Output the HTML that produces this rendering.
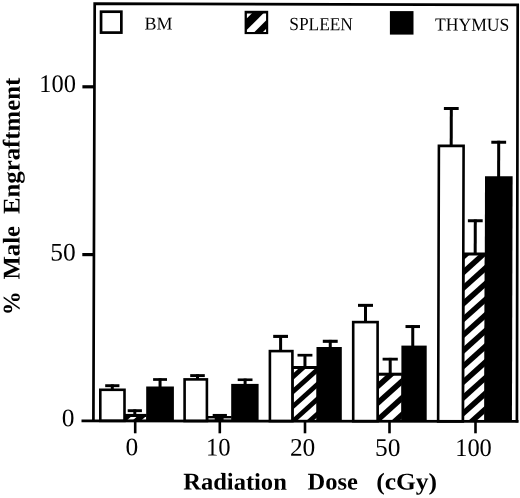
<!DOCTYPE html>
<html><head><meta charset="utf-8"><title>chart</title>
<style>html,body{margin:0;padding:0;background:#fff;}svg{display:block;filter:grayscale(1) blur(0.4px);}text{font-family:"Liberation Serif",serif;fill:#000;}</style></head><body>
<svg width="520" height="498" viewBox="0 0 520 498">
<rect x="0" y="0" width="520" height="498" fill="#fff"/>
<rect x="123.20" y="413.90" width="23.50" height="6.98" fill="#000"/>
<clipPath id="c1"><rect x="125.8" y="416.9" width="20.39999999999999" height="2.7754462242563136"/></clipPath>
<rect x="125.8" y="416.9" width="20.39999999999999" height="2.7754462242563136" fill="#000"/>
<g clip-path="url(#c1)" fill="#fff">
<polygon points="124.80,396.30 124.80,401.50 147.20,381.34 147.20,376.14"/>
<polygon points="124.80,409.30 124.80,414.50 147.20,394.34 147.20,389.14"/>
<polygon points="124.80,422.30 124.80,427.50 147.20,407.34 147.20,402.14"/>
<polygon points="124.80,435.30 124.80,440.50 147.20,420.34 147.20,415.14"/>
<polygon points="124.80,448.30 124.80,453.50 147.20,433.34 147.20,428.14"/>
<polygon points="124.80,461.30 124.80,466.50 147.20,446.34 147.20,441.14"/>
</g>
<rect x="100.30" y="389.80" width="24.20" height="31.08" fill="#fff" stroke="#000" stroke-width="2.6"/>
<rect x="146.20" y="386.50" width="27.70" height="34.38" fill="#000"/>
<rect x="105.20" y="384.25" width="14.20" height="2.90" fill="#000"/>
<rect x="110.80" y="384.40" width="3.0" height="5.10" fill="#000"/>
<rect x="127.70" y="409.25" width="14.20" height="2.90" fill="#000"/>
<rect x="133.30" y="409.40" width="3.0" height="5.50" fill="#000"/>
<rect x="153.10" y="378.15" width="13.90" height="2.70" fill="#000"/>
<rect x="158.55" y="378.30" width="3.0" height="9.20" fill="#000"/>
<rect x="205.60" y="416.00" width="26.10" height="4.99" fill="#000"/>
<rect x="184.60" y="379.40" width="22.30" height="41.59" fill="#fff" stroke="#000" stroke-width="2.6"/>
<rect x="231.20" y="383.90" width="27.40" height="37.09" fill="#000"/>
<rect x="190.20" y="374.15" width="14.60" height="2.90" fill="#000"/>
<rect x="196.00" y="374.30" width="3.0" height="4.80" fill="#000"/>
<rect x="212.70" y="413.95" width="14.20" height="2.90" fill="#000"/>
<rect x="218.30" y="414.10" width="3.0" height="2.90" fill="#000"/>
<rect x="237.70" y="378.45" width="14.80" height="2.60" fill="#000"/>
<rect x="243.60" y="378.60" width="3.0" height="6.30" fill="#000"/>
<rect x="291.10" y="366.00" width="25.90" height="55.11" fill="#000"/>
<clipPath id="c2"><rect x="293.7" y="369.0" width="22.80000000000001" height="50.90713958810068"/></clipPath>
<rect x="293.7" y="369.0" width="22.80000000000001" height="50.90713958810068" fill="#000"/>
<g clip-path="url(#c2)" fill="#fff">
<polygon points="292.70,350.60 292.70,359.00 317.50,336.68 317.50,328.28"/>
<polygon points="292.70,365.40 292.70,373.80 317.50,351.48 317.50,343.08"/>
<polygon points="292.70,380.20 292.70,388.60 317.50,366.28 317.50,357.88"/>
<polygon points="292.70,395.00 292.70,403.40 317.50,381.08 317.50,372.68"/>
<polygon points="292.70,409.80 292.70,418.20 317.50,395.88 317.50,387.48"/>
<polygon points="292.70,424.60 292.70,433.00 317.50,410.68 317.50,402.28"/>
<polygon points="292.70,439.40 292.70,447.80 317.50,425.48 317.50,417.08"/>
<polygon points="292.70,454.20 292.70,462.60 317.50,440.28 317.50,431.88"/>
<polygon points="292.70,469.00 292.70,477.40 317.50,455.08 317.50,446.68"/>
</g>
<rect x="269.90" y="351.10" width="22.50" height="70.01" fill="#fff" stroke="#000" stroke-width="2.6"/>
<rect x="316.50" y="347.00" width="25.30" height="74.11" fill="#000"/>
<rect x="273.20" y="334.85" width="14.80" height="3.10" fill="#000"/>
<rect x="279.10" y="335.00" width="3.0" height="15.80" fill="#000"/>
<rect x="297.50" y="353.85" width="14.90" height="2.70" fill="#000"/>
<rect x="303.45" y="354.00" width="3.0" height="13.00" fill="#000"/>
<rect x="322.80" y="339.75" width="14.90" height="3.10" fill="#000"/>
<rect x="328.75" y="339.90" width="3.0" height="8.10" fill="#000"/>
<rect x="376.30" y="372.70" width="25.60" height="48.52" fill="#000"/>
<clipPath id="c3"><rect x="378.9" y="375.7" width="22.5" height="44.32260869565221"/></clipPath>
<rect x="378.9" y="375.7" width="22.5" height="44.32260869565221" fill="#000"/>
<g clip-path="url(#c3)" fill="#fff">
<polygon points="377.90,356.30 377.90,365.60 402.40,343.55 402.40,334.25"/>
<polygon points="377.90,373.10 377.90,382.40 402.40,360.35 402.40,351.05"/>
<polygon points="377.90,389.90 377.90,399.20 402.40,377.15 402.40,367.85"/>
<polygon points="377.90,406.70 377.90,416.00 402.40,393.95 402.40,384.65"/>
<polygon points="377.90,423.50 377.90,432.80 402.40,410.75 402.40,401.45"/>
<polygon points="377.90,440.30 377.90,449.60 402.40,427.55 402.40,418.25"/>
<polygon points="377.90,457.10 377.90,466.40 402.40,444.35 402.40,435.05"/>
<polygon points="377.90,473.90 377.90,483.20 402.40,461.15 402.40,451.85"/>
</g>
<rect x="353.20" y="322.10" width="24.40" height="99.12" fill="#fff" stroke="#000" stroke-width="2.6"/>
<rect x="401.40" y="345.60" width="25.30" height="75.62" fill="#000"/>
<rect x="358.00" y="303.85" width="15.00" height="3.00" fill="#000"/>
<rect x="364.00" y="304.00" width="3.0" height="17.80" fill="#000"/>
<rect x="382.60" y="357.75" width="15.20" height="2.80" fill="#000"/>
<rect x="388.70" y="357.90" width="3.0" height="15.80" fill="#000"/>
<rect x="405.50" y="325.05" width="14.50" height="3.00" fill="#000"/>
<rect x="411.25" y="325.20" width="3.0" height="21.40" fill="#000"/>
<g transform="translate(0.41,0) skewX(-0.16)">
<rect x="462.30" y="252.50" width="23.30" height="168.84" fill="#000"/>
<clipPath id="c4"><rect x="464.9" y="255.5" width="20.200000000000045" height="164.64048054919908"/></clipPath>
<rect x="464.9" y="255.5" width="20.200000000000045" height="164.64048054919908" fill="#000"/>
<g clip-path="url(#c4)" fill="#fff">
<polygon points="463.90,228.70 463.90,237.00 486.10,217.02 486.10,208.72"/>
<polygon points="463.90,244.40 463.90,252.70 486.10,232.72 486.10,224.42"/>
<polygon points="463.90,260.10 463.90,268.40 486.10,248.42 486.10,240.12"/>
<polygon points="463.90,275.80 463.90,284.10 486.10,264.12 486.10,255.82"/>
<polygon points="463.90,291.50 463.90,299.80 486.10,279.82 486.10,271.52"/>
<polygon points="463.90,307.20 463.90,315.50 486.10,295.52 486.10,287.22"/>
<polygon points="463.90,322.90 463.90,331.20 486.10,311.22 486.10,302.92"/>
<polygon points="463.90,338.60 463.90,346.90 486.10,326.92 486.10,318.62"/>
<polygon points="463.90,354.30 463.90,362.60 486.10,342.62 486.10,334.32"/>
<polygon points="463.90,370.00 463.90,378.30 486.10,358.32 486.10,350.02"/>
<polygon points="463.90,385.70 463.90,394.00 486.10,374.02 486.10,365.72"/>
<polygon points="463.90,401.40 463.90,409.70 486.10,389.72 486.10,381.42"/>
<polygon points="463.90,417.10 463.90,425.40 486.10,405.42 486.10,397.12"/>
<polygon points="463.90,432.80 463.90,441.10 486.10,421.12 486.10,412.82"/>
<polygon points="463.90,448.50 463.90,456.80 486.10,436.82 486.10,428.52"/>
<polygon points="463.90,464.20 463.90,472.50 486.10,452.52 486.10,444.22"/>
</g>
<rect x="438.90" y="145.90" width="24.70" height="275.44" fill="#fff" stroke="#000" stroke-width="2.6"/>
<rect x="485.10" y="176.20" width="27.60" height="245.14" fill="#000"/>
<rect x="443.80" y="107.05" width="14.80" height="3.00" fill="#000"/>
<rect x="449.70" y="107.20" width="3.0" height="38.40" fill="#000"/>
<rect x="468.10" y="219.25" width="14.80" height="2.90" fill="#000"/>
<rect x="474.00" y="219.40" width="3.0" height="34.10" fill="#000"/>
<rect x="491.30" y="140.65" width="14.80" height="3.00" fill="#000"/>
<rect x="497.20" y="140.80" width="3.0" height="36.40" fill="#000"/>
</g>
<rect x="208.5" y="418.3" width="6.2" height="1.3" fill="#e8e8e8"/><rect x="223.6" y="418.3" width="7.5" height="1.3" fill="#e8e8e8"/>
<polyline points="93.4,422.0 94.7,3.7 517.7,4.9 516.9,422.6" fill="none" stroke="#000" stroke-width="2.7" stroke-linejoin="miter"/>
<line x1="81.5" y1="420.8" x2="518.5" y2="421.4" stroke="#000" stroke-width="2.7" stroke-linecap="butt"/>
<line x1="82.4" y1="86.8" x2="94.5" y2="86.8" stroke="#000" stroke-width="3.2" stroke-linecap="butt"/>
<line x1="82.3" y1="254.6" x2="94" y2="254.6" stroke="#000" stroke-width="3.2" stroke-linecap="butt"/>
<line x1="135.2" y1="420.87372997711674" x2="135.2" y2="433.3" stroke="#000" stroke-width="2.6" stroke-linecap="butt"/>
<line x1="219.8" y1="420.989885583524" x2="219.8" y2="433.3" stroke="#000" stroke-width="2.6" stroke-linecap="butt"/>
<line x1="305.0" y1="421.10686498855836" x2="305.0" y2="433.3" stroke="#000" stroke-width="2.6" stroke-linecap="butt"/>
<line x1="389.5" y1="421.2228832951945" x2="389.5" y2="433.3" stroke="#000" stroke-width="2.6" stroke-linecap="butt"/>
<line x1="475.5" y1="421.34096109839817" x2="475.5" y2="433.3" stroke="#000" stroke-width="2.6" stroke-linecap="butt"/>
<rect x="101.05" y="11.7" width="20.3" height="20.9" fill="#fff" stroke="#000" stroke-width="2.7"/>
<rect x="244.6" y="10.8" width="23.6" height="23.3" fill="#000"/>
<clipPath id="lg"><rect x="246.7" y="13.5" width="19.55" height="18.4"/></clipPath>
<g clip-path="url(#lg)" fill="#fff">
<polygon points="246.70,0.00 246.70,18.50 266.25,-1.05 266.25,-19.55"/>
<polygon points="246.70,30.00 246.70,39.80 266.25,20.25 266.25,10.45"/>
<polygon points="246.70,48.30 246.70,70.00 266.25,50.45 266.25,28.75"/>
</g>
<rect x="389.9" y="11.1" width="23.6" height="23.5" fill="#000"/>
<text x="144.6" y="29.4" transform="rotate(0.16 144.6 29.4)" font-size="18.1" text-anchor="start" font-weight="normal" textLength="28.0" lengthAdjust="spacingAndGlyphs">BM</text>
<text x="289.3" y="30.1" transform="rotate(0.16 289.3 30.1)" font-size="18.5" text-anchor="start" font-weight="normal" textLength="63.6" lengthAdjust="spacingAndGlyphs">SPLEEN</text>
<text x="435.0" y="30.6" transform="rotate(0.16 435.0 30.6)" font-size="18.3" text-anchor="start" font-weight="normal" textLength="74.4" lengthAdjust="spacingAndGlyphs">THYMUS</text>
<text x="75.9" y="92.1" transform="rotate(0.16 75.9 92.1)" font-size="25.4" text-anchor="end" font-weight="normal" textLength="36.6" lengthAdjust="spacingAndGlyphs">100</text>
<text x="75.6" y="260.6" transform="rotate(0.16 75.6 260.6)" font-size="25.4" text-anchor="end" font-weight="normal">50</text>
<text x="74.4" y="426.3" transform="rotate(0.16 74.4 426.3)" font-size="25.4" text-anchor="end" font-weight="normal">0</text>
<text x="131.9" y="455.4" transform="rotate(0.16 131.9 455.4)" font-size="25.4" text-anchor="middle" font-weight="normal">0</text>
<text x="218.3" y="455.6" transform="rotate(0.16 218.3 455.6)" font-size="25.4" text-anchor="middle" font-weight="normal" textLength="24.6" lengthAdjust="spacingAndGlyphs">10</text>
<text x="302.6" y="455.8" transform="rotate(0.16 302.6 455.8)" font-size="25.4" text-anchor="middle" font-weight="normal">20</text>
<text x="387.8" y="455.9" transform="rotate(0.16 387.8 455.9)" font-size="25.4" text-anchor="middle" font-weight="normal">50</text>
<text x="473.5" y="456.0" transform="rotate(0.16 473.5 456.0)" font-size="25.4" text-anchor="middle" font-weight="normal" textLength="36.6" lengthAdjust="spacingAndGlyphs">100</text>
<text x="183.2" y="489.5" transform="rotate(0.16 183.2 489.5)" font-size="24" text-anchor="start" font-weight="bold" textLength="103.6" lengthAdjust="spacingAndGlyphs">Radiation</text>
<text x="307.5" y="489.5" transform="rotate(0.16 307.5 489.5)" font-size="24" text-anchor="start" font-weight="bold" textLength="50.3" lengthAdjust="spacingAndGlyphs">Dose</text>
<text x="376.2" y="489.5" transform="rotate(0.16 376.2 489.5)" font-size="24" text-anchor="start" font-weight="bold" textLength="60.8" lengthAdjust="spacingAndGlyphs">(cGy)</text>
<text transform="translate(19.4,315.3) rotate(-89.84)" font-size="24" font-weight="bold">%</text>
<text transform="translate(19.4,279.6) rotate(-89.84)" font-size="24" font-weight="bold" textLength="53.6" lengthAdjust="spacingAndGlyphs">Male</text>
<text transform="translate(19.4,214.0) rotate(-89.84)" font-size="24" font-weight="bold" textLength="136.2" lengthAdjust="spacingAndGlyphs">Engraftment</text>
</svg></body></html>
